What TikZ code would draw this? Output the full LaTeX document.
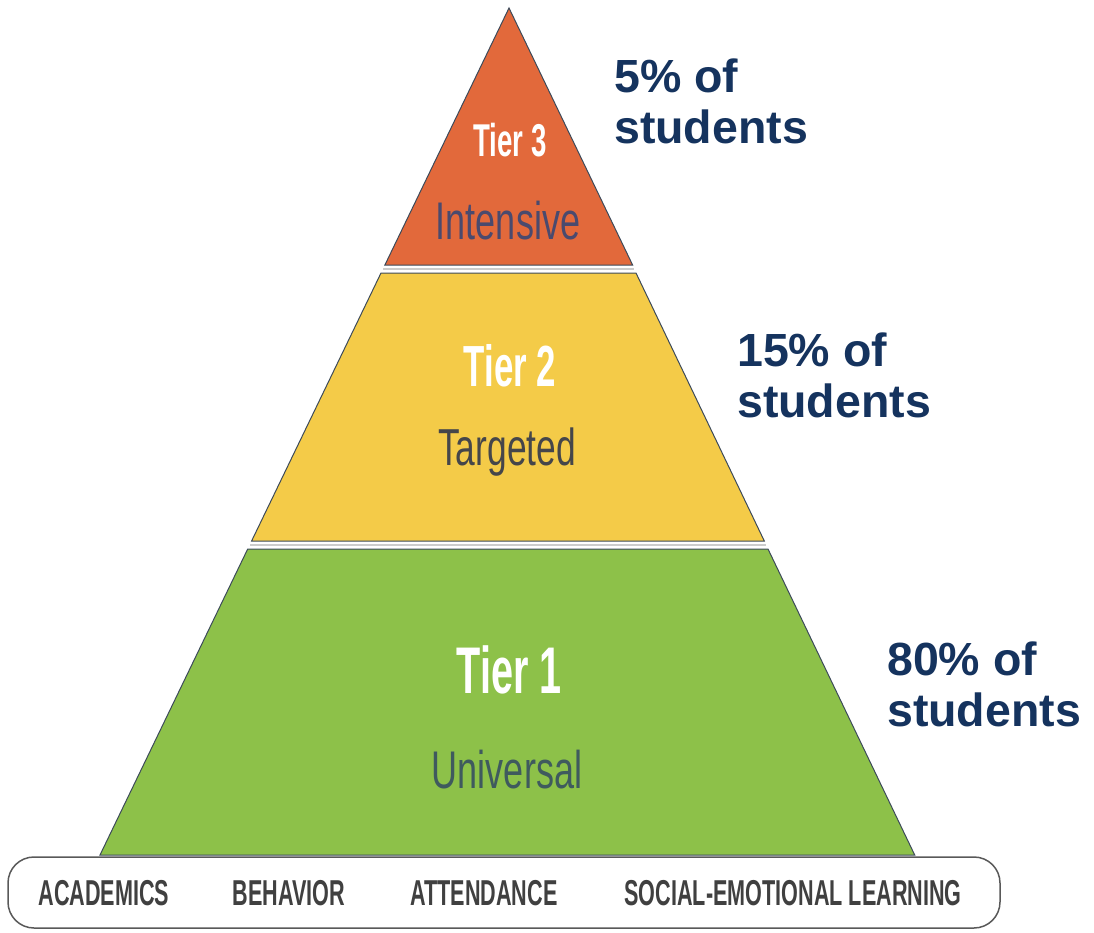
\documentclass[tikz,border=0pt]{standalone}
\usepackage{fontspec}
\usepackage{tikz}
\usetikzlibrary{positioning}
\setmainfont{Liberation Sans}
\newfontfamily\condfont[FakeStretch=0.68]{Liberation Sans}
\newfontfamily\narrowfont[FakeStretch=0.6]{Liberation Sans}
\definecolor{tierred}{HTML}{E2693B}
\definecolor{tieryellow}{HTML}{F4CB48}
\definecolor{tiergreen}{HTML}{8DC149}
\definecolor{edgegray}{HTML}{3C4A5A}
\definecolor{navy}{HTML}{15335E}
\definecolor{slate}{HTML}{4A4A6E}
\definecolor{darkgray}{HTML}{45464A}
\definecolor{tealgray}{HTML}{3F5A5E}
\begin{document}
\begin{tikzpicture}
        [x=1pt,y=-1pt,
        tier/.style={draw=edgegray,line width=1pt},
        head/.style={text=white,font=\narrowfont\bfseries\fontsize{#1}{#1}\selectfont},
        kind/.style={font=\condfont\fontsize{#1}{#1}\selectfont},
        share/.style={text=navy,anchor=west,align=left,inner sep=0pt,
            font=\bfseries\fontsize{46.5}{51}\selectfont},
        area/.style={text=black!75,font=\narrowfont\bfseries\fontsize{36}{36}\selectfont}]
        \useasboundingbox (0,0) rectangle (1094,933);
        % tiers
        \draw[tier,fill=tierred] (509,8) -- (632.6,265) -- (384.9,265) -- cycle;
        \draw[tier,fill=tieryellow] (381,273) -- (636,273) -- (764.3,541) -- (251.6,541) -- cycle;
        \draw[tier,fill=tiergreen] (247.7,549) -- (768,549) -- (914.7,855) -- (100,855) -- cycle;
        \draw[black!20,line width=1.5pt] (383,269) -- (634,269);
        \draw[black!20,line width=1.5pt] (250,545) -- (766,545);
        \node[head=46] (t3) at (510,140) {Tier 3};
        \node[kind=53,text=slate] (i3) at (508,221) {Intensive};
        \node[head=58] (t2) at (510,366) {Tier 2};
        \node[kind=52,text=darkgray] (i2) at (507,452) {Targeted};
        \node[head=66] (t1) at (509,670) {Tier 1};
        \node[kind=53,text=tealgray] (i1) at (507,770) {Universal};
        % shares
        \node[share] (s3) at (614,101) {5\% of\\students};
        \node[share] (s2) at (737,375) {15\% of\\students};
        \node[share] (s1) at (887,684) {80\% of\\students};
        % base bar
        \draw[draw=black!65,line width=1.5pt,fill=white,rounded corners=26pt]
            (8,857) rectangle (1000,928);
        \node[area] (a1) at (104,893) {ACADEMICS};
        \node[area] (a2) at (289,893) {BEHAVIOR};
        \node[area] (a3) at (484,893) {ATTENDANCE};
        \node[area] (a4) at (793,893) {SOCIAL-EMOTIONAL LEARNING};
    \end{tikzpicture}
\end{document}
